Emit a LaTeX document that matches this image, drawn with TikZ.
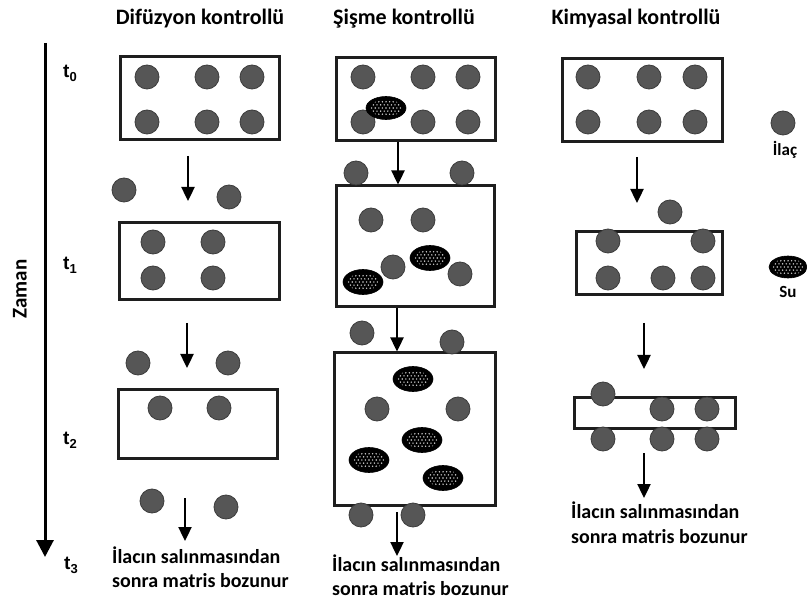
\documentclass[tikz,border=0pt]{standalone}
\usepackage{fontspec}
\setmainfont{Carlito}
\newfontfamily\tfont{Liberation Sans}
\usetikzlibrary{arrows.meta,shapes.geometric}

\definecolor{drugfill}{HTML}{565656}
\definecolor{drugedge}{HTML}{3C3C3C}
\definecolor{framecol}{HTML}{1E1E1E}
\definecolor{dotcol}{HTML}{D0D0D0}

\tikzset{
  matrixbox/.style={draw=framecol, line width=3pt, rectangle, inner sep=0pt},
  drug/.style={circle, fill=drugfill, draw=drugedge, line width=0.8pt,
    minimum size=24pt, inner sep=0pt},
  water/.style={ellipse, fill=black, draw=black, line width=0.6pt,
    minimum width=40pt, minimum height=24pt, inner sep=0pt,
    path picture={
      \begin{scope}
        \clip (path picture bounding box.center) ellipse [x radius=15.5pt, y radius=8.5pt];
        \foreach \r in {-3,...,3}{
          \foreach \c in {-5,...,5}{
            \fill[dotcol] ([shift={({\c*3.6pt+mod(\r+10,2)*1.8pt},{\r*3.1pt})}]path picture bounding box.center) circle (0.8pt);
          }
        }
      \end{scope}
    }},
  flow/.style={-{Triangle[width=13pt,length=14pt]}, line width=2.4pt, draw=black},
  timeaxis/.style={-{Triangle[width=17pt,length=17pt]}, line width=3pt, draw=black},
  coltitle/.style={font=\bfseries\fontsize{22}{26}\selectfont, anchor=base, inner sep=0pt},
  note/.style={font=\bfseries\fontsize{20}{24}\selectfont, anchor=base west, inner sep=0pt},
  tlabel/.style={font=\tfont\bfseries\fontsize{19}{24}\selectfont, anchor=base west, inner sep=0pt},
  legendtext/.style={font=\bfseries\fontsize{17}{20}\selectfont, anchor=base, inner sep=0pt}
}

\newcommand{\tsub}[1]{t\raisebox{-4pt}{\fontsize{13}{13}\selectfont #1}}

\begin{document}
\begin{tikzpicture}[x=1pt, y=-1pt]
  \useasboundingbox (0,0) rectangle (807,604);
  \fill[white] (0,0) rectangle (807,604);

  % column headings
  \node[coltitle] (hDif) at (200,25) {Difüzyon kontrollü};
  \node[coltitle] (hSis) at (404,25) {Şişme kontrollü};
  \node[coltitle] (hKim) at (636,25) {Kimyasal kontrollü};

  % time axis
  \coordinate (tTop) at (45,43);
  \coordinate (tEnd) at (45,557);
  \draw[timeaxis] (tTop) -- (tEnd);
  \node[font=\bfseries\fontsize{21}{24}\selectfont, rotate=90] (zaman) at (20,289) {Zaman};
  \node[tlabel] (t0) at (63,78) {\tsub{0}};
  \node[tlabel] (t1) at (63,270) {\tsub{1}};
  \node[tlabel] (t2) at (63,445) {\tsub{2}};
  \node[tlabel] (t3) at (64,569) {\tsub{3}};

  % ---------- diffusion controlled ----------
  \node[matrixbox, minimum width=159pt, minimum height=83pt] (L0) at (199.5,98.5) {};
  \node[matrixbox, minimum width=160pt, minimum height=77pt] (L1) at (199,261.5) {};
  \node[matrixbox, minimum width=159pt, minimum height=68pt] (L2) at (197.5,424) {};
  \foreach \px/\py [count=\i] in {147/77,207/77,252/77,147/122,207/122,252/122}
    \node[drug] (dL0-\i) at (\px,\py) {};
  \foreach \px/\py [count=\i] in {124/190,229/197}
    \node[drug] (dLa-\i) at (\px,\py) {};
  \foreach \px/\py [count=\i] in {153/242,213/242,153/278,213/278}
    \node[drug] (dL1-\i) at (\px,\py) {};
  \foreach \px/\py [count=\i] in {138/363,228/363}
    \node[drug] (dLb-\i) at (\px,\py) {};
  \foreach \px/\py [count=\i] in {160/408,219/408}
    \node[drug] (dL2-\i) at (\px,\py) {};
  \foreach \px/\py [count=\i] in {152/501,226/507}
    \node[drug] (dLc-\i) at (\px,\py) {};
  \coordinate (la1s) at (188,156); \coordinate (la1e) at (188,201);
  \coordinate (la2s) at (187,323); \coordinate (la2e) at (187,368);
  \coordinate (la3s) at (185,498); \coordinate (la3e) at (185,541);
  \draw[flow] (la1s) -- (la1e);
  \draw[flow] (la2s) -- (la2e);
  \draw[flow] (la3s) -- (la3e);
  \node[note] (nL1) at (112,563) {İlacın salınmasından};
  \node[note] (nL2) at (112,587) {sonra matris bozunur};

  % ---------- swelling controlled ----------
  \node[matrixbox, minimum width=159pt, minimum height=83pt] (M0) at (415.5,99.5) {};
  \node[matrixbox, minimum width=158pt, minimum height=121pt] (M1) at (415,246.5) {};
  \node[matrixbox, minimum width=161pt, minimum height=152pt] (M2) at (414.5,429) {};
  \coordinate (mx1) at (398,0);
  \coordinate (mx2) at (397,0);
  \draw[flow] (M0.south -| mx1) -- (M1.north -| mx1);
  \draw[flow] (M1.south -| mx2) -- (M2.north -| mx2);
  \coordinate (ma3s) at (397,512); \coordinate (ma3e) at (397,556);
  \draw[flow] (ma3s) -- (ma3e);
  \foreach \px/\py [count=\i] in {363/77,423/77,468/77,363/122,423/122,468/122}
    \node[drug] (dM0-\i) at (\px,\py) {};
  \node[water, minimum height=23pt] (wM0) at (386,108) {};
  \foreach \px/\py [count=\i] in {356/173,462/173}
    \node[drug] (dMa-\i) at (\px,\py) {};
  \foreach \px/\py [count=\i] in {371/220,423/220,393/267,460/274}
    \node[drug] (dM1-\i) at (\px,\py) {};
  \node[water, minimum height=25pt] (wM1a) at (363,282) {};
  \node[water, minimum height=25pt] (wM1b) at (430,258) {};
  \foreach \px/\py [count=\i] in {362/333,452/342}
    \node[drug] (dMb-\i) at (\px,\py) {};
  \foreach \px/\py [count=\i] in {377/409,458/409}
    \node[drug] (dM2-\i) at (\px,\py) {};
  \foreach \px/\py [count=\i] in {413/379,422/440,369/460,443/478}
    \node[water, minimum height=25pt] (wM2-\i) at (\px,\py) {};
  \foreach \px/\py [count=\i] in {361/515,413/515}
    \node[drug] (dMc-\i) at (\px,\py) {};
  \node[note] (nM1) at (332,571) {İlacın salınmasından};
  \node[note] (nM2) at (332,595) {sonra matris bozunur};

  % ---------- chemically controlled ----------
  \node[matrixbox, minimum width=160pt, minimum height=83pt] (R0) at (642,100.5) {};
  \node[matrixbox, minimum width=146pt, minimum height=63pt] (R1) at (649,263.5) {};
  \node[matrixbox, minimum width=161pt, minimum height=31pt] (R2) at (654.5,413.5) {};
  \foreach \px/\py [count=\i] in {588/77,649/77,695/77,588/122,649/122,695/122}
    \node[drug] (dR0-\i) at (\px,\py) {};
  \node[drug] (dRa-1) at (670,212) {};
  \foreach \px/\py [count=\i] in {608/241,703/241,608/278,663/278,703/278}
    \node[drug] (dR1-\i) at (\px,\py) {};
  \foreach \px/\py [count=\i] in {603/394,662/409,707/409,603/439,662/439,707/439}
    \node[drug] (dR2-\i) at (\px,\py) {};
  \coordinate (ra1s) at (637,157); \coordinate (ra1e) at (637,203);
  \coordinate (ra2s) at (644,323); \coordinate (ra2e) at (644,369);
  \coordinate (ra3s) at (644,453); \coordinate (ra3e) at (644,498);
  \draw[flow] (ra1s) -- (ra1e);
  \draw[flow] (ra2s) -- (ra2e);
  \draw[flow] (ra3s) -- (ra3e);
  \node[note] (nR1) at (571,518) {İlacın salınmasından};
  \node[note] (nR2) at (571,543) {sonra matris bozunur};

  % ---------- legend ----------
  \node[drug] (legDrug) at (783,123) {};
  \node[legendtext] (legDrugT) at (785,156) {İlaç};
  \node[water, minimum width=38pt, minimum height=22pt] (legWater) at (788,267) {};
  \node[legendtext] (legWaterT) at (788,298) {Su};
\end{tikzpicture}
\end{document}
